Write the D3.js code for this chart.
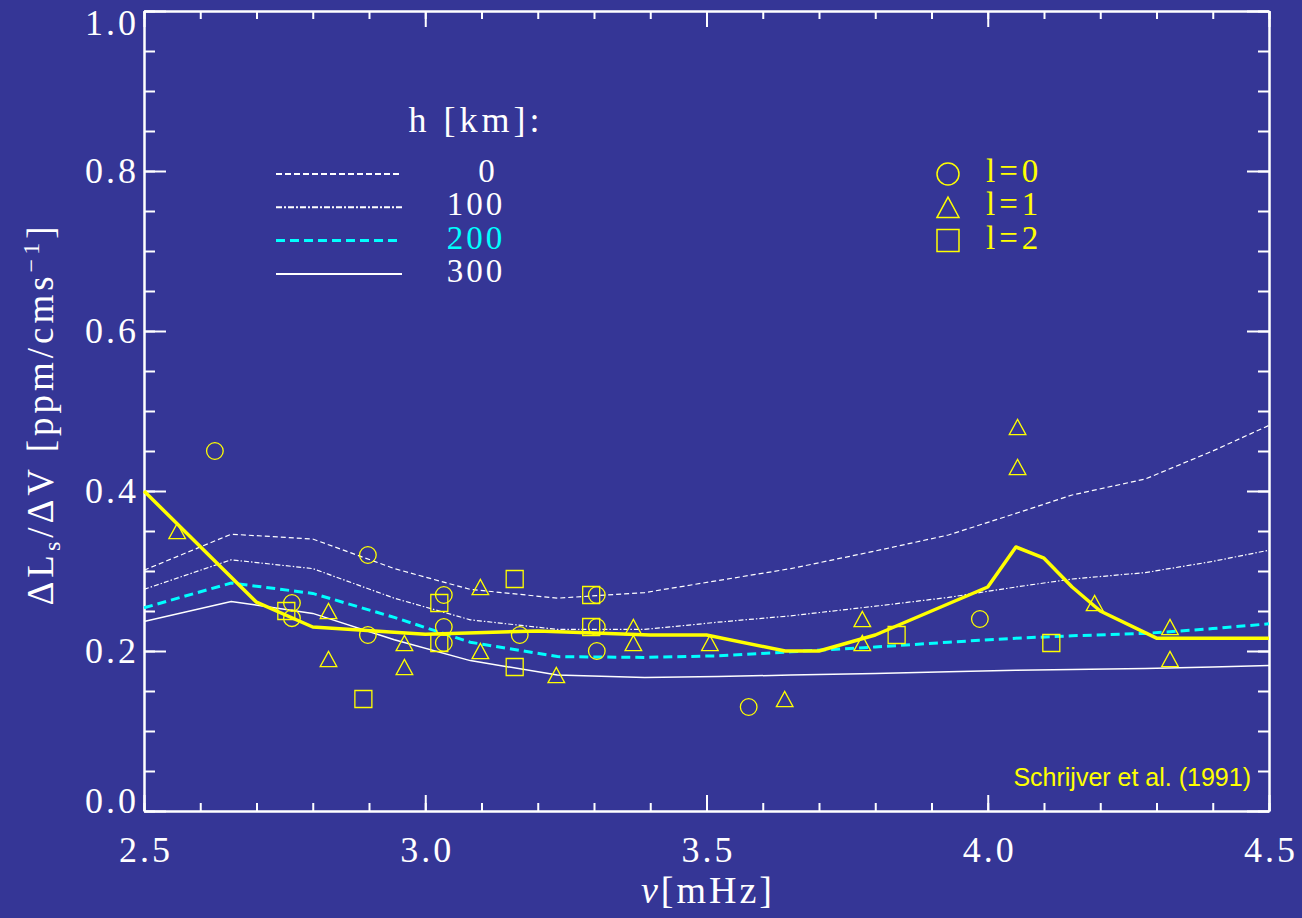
<!DOCTYPE html>
<html>
<head>
<meta charset="utf-8">
<script src="https://cdn.jsdelivr.net/npm/d3@7"></script>
<style>
body { margin: 0; background: #353696; }
.axis path, .axis line { stroke: #fff; stroke-width: 2; }
.axis text { fill: #fff; font-family: "Liberation Serif", serif; font-size: 36px; letter-spacing: 3px; }
.label { fill: #fff; font-family: "Liberation Serif", serif; font-size: 33px; letter-spacing: 3px; }
</style>
</head>
<body>
<div id="chart"></div>
<script>
// model curves, one value per grid frequency
var modelFreq = [2.5, 2.655, 2.80, 2.945, 3.08, 3.235, 3.39, 3.52, 3.65, 3.80, 3.93, 4.05, 4.15, 4.28, 4.40, 4.5];
var model0   = [0.301, 0.346, 0.340, 0.303, 0.277, 0.266, 0.273, 0.288, 0.303, 0.325, 0.345, 0.372, 0.395, 0.415, 0.450, 0.482];
var model100 = [0.277, 0.314, 0.303, 0.266, 0.239, 0.227, 0.227, 0.236, 0.244, 0.256, 0.267, 0.280, 0.290, 0.298, 0.312, 0.326];
var model200 = [0.254, 0.285, 0.272, 0.242, 0.211, 0.193, 0.192, 0.194, 0.199, 0.205, 0.211, 0.216, 0.219, 0.222, 0.228, 0.234];
var model300 = [0.237, 0.262, 0.247, 0.214, 0.188, 0.170, 0.167, 0.168, 0.170, 0.172, 0.174, 0.176, 0.177, 0.178, 0.180, 0.182];
var heights = ["0", "100", "200", "300"];

// observed mean (thick yellow)
var obsFreq  = [2.5, 2.7, 2.8, 3.0, 3.2, 3.4, 3.5, 3.64, 3.7, 3.8, 4.0, 4.05, 4.1, 4.15, 4.2, 4.3, 4.5];
var obsValue = [0.40, 0.261, 0.230, 0.221, 0.225, 0.220, 0.220, 0.200, 0.200, 0.220, 0.280, 0.330, 0.316, 0.280, 0.250, 0.216, 0.216];

// individual modes
var l0Points = [[2.626, 0.45], [2.763, 0.26], [2.763, 0.241], [2.898, 0.32], [2.898, 0.22],
    [3.033, 0.27], [3.033, 0.23], [3.033, 0.21], [3.168, 0.22], [3.305, 0.27], [3.305, 0.23],
    [3.305, 0.20], [3.575, 0.13], [3.986, 0.24]];
var l1Points = [[2.559, 0.35], [2.828, 0.25], [2.828, 0.19], [2.963, 0.21], [2.963, 0.18],
    [3.098, 0.28], [3.098, 0.20], [3.233, 0.17], [3.37, 0.23], [3.37, 0.21], [3.506, 0.21],
    [3.639, 0.14], [3.777, 0.24], [3.777, 0.21], [4.053, 0.48], [4.053, 0.43], [4.19, 0.26],
    [4.324, 0.23], [4.324, 0.19]];
var l2Points = [[2.753, 0.25], [2.89, 0.14], [3.025, 0.26], [3.025, 0.21], [3.159, 0.29],
    [3.159, 0.18], [3.295, 0.27], [3.295, 0.23], [3.838, 0.22], [4.113, 0.21]];
var degrees = ["l=0", "l=1", "l=2"];

var xTicks = [2.5, 3.0, 3.5, 4.0, 4.5];
var yTicks = [0.0, 0.2, 0.4, 0.6, 0.8, 1.0];

var margin = { top: 11, right: 33, bottom: 107, left: 144 };
var width = 1302 - margin.left - margin.right;
var height = 918 - margin.top - margin.bottom;

var root = d3.select("#chart").append("svg")
    .attr("width", 1302)
    .attr("height", 918);

root.append("rect")
    .attr("width", 1302)
    .attr("height", 918)
    .attr("fill", "#353696");

var svg = root.append("g")
    .attr("transform", "translate(" + margin.left + "," + margin.top + ")");

var x = d3.scaleLinear().domain([2.5, 4.5]).range([0, width]);
var y = d3.scaleLinear().domain([0, 1]).range([height, 0]);

var xMinor = d3.range(25, 46).map(function(d) { return d / 10; });
var yMinor = d3.range(0, 21).map(function(d) { return d / 20; });
var fmt = d3.format(".1f");

// minor ticks, all four sides
svg.append("g").attr("class", "axis").attr("transform", "translate(0," + height + ")")
    .call(d3.axisBottom(x).tickValues(xMinor).tickFormat("").tickSizeInner(-8).tickSizeOuter(0));
svg.append("g").attr("class", "axis")
    .call(d3.axisTop(x).tickValues(xMinor).tickFormat("").tickSizeInner(-8).tickSizeOuter(0));
svg.append("g").attr("class", "axis")
    .call(d3.axisLeft(y).tickValues(yMinor).tickFormat("").tickSizeInner(-11).tickSizeOuter(0));
svg.append("g").attr("class", "axis").attr("transform", "translate(" + width + ",0)")
    .call(d3.axisRight(y).tickValues(yMinor).tickFormat("").tickSizeInner(-11).tickSizeOuter(0));

// major ticks
var xAxisG = svg.append("g").attr("class", "axis").attr("transform", "translate(0," + height + ")")
    .call(d3.axisBottom(x).tickValues(xTicks).tickFormat(fmt).tickSizeInner(-16).tickSizeOuter(0).tickPadding(25));
svg.append("g").attr("class", "axis")
    .call(d3.axisTop(x).tickValues(xTicks).tickFormat("").tickSizeInner(-16).tickSizeOuter(0));
var yAxisG = svg.append("g").attr("class", "axis")
    .call(d3.axisLeft(y).tickValues(yTicks).tickFormat(fmt).tickSizeInner(-22).tickSizeOuter(0).tickPadding(5));
svg.append("g").attr("class", "axis").attr("transform", "translate(" + width + ",0)")
    .call(d3.axisRight(y).tickValues(yTicks).tickFormat("").tickSizeInner(-22).tickSizeOuter(0));

// letter-spacing leaves a trailing gap; nudge centred labels back
xAxisG.selectAll(".tick text").attr("dx", "1.5");

// end labels are pulled inside the frame
yAxisG.selectAll(".tick text")
    .attr("dy", function(d) { return d === 1 ? "0.64em" : d === 0 ? "0.03em" : "0.33em"; });

svg.selectAll(".axis .domain").attr("stroke-width", 2);

// model lines
var modelLine = d3.line()
    .x(function(d, i) { return x(modelFreq[i]); })
    .y(function(d) { return y(d); });

var modelStyles = [
    { data: model0,   color: "#ffffff", width: 1.2, dash: "5,3" },
    { data: model100, color: "#ffffff", width: 1.2, dash: "5,2,1.5,2" },
    { data: model200, color: "#00ffff", width: 3,   dash: "9,5" },
    { data: model300, color: "#ffffff", width: 1.5, dash: null }
];

svg.selectAll(".model")
    .data(modelStyles)
    .enter().append("path")
    .attr("class", "model")
    .attr("fill", "none")
    .attr("stroke", function(d) { return d.color; })
    .attr("stroke-width", function(d) { return d.width; })
    .attr("stroke-dasharray", function(d) { return d.dash; })
    .attr("d", function(d) { return modelLine(d.data); });

// observed mean
var obsLine = d3.line()
    .x(function(d, i) { return x(obsFreq[i]); })
    .y(function(d) { return y(d); });

svg.append("path")
    .attr("fill", "none")
    .attr("stroke", "#ffff00")
    .attr("stroke-width", 3.5)
    .attr("stroke-linejoin", "round")
    .attr("d", obsLine(obsValue));

// marker shapes
function markerPath(shape, s) {
    if (shape === "circle") {
        var p = d3.path();
        p.moveTo(s, 0);
        p.arc(0, 0, s, 0, 2 * Math.PI);
        return p.toString();
    }
    if (shape === "triangle") {
        return "M" + (-s) + "," + (s * 0.92) + "L0," + (-s * 0.92) + "L" + s + "," + (s * 0.92) + "Z";
    }
    return "M" + (-s) + "," + (-s) + "h" + (2 * s) + "v" + (2 * s) + "h" + (-2 * s) + "Z";
}

var shapes = ["circle", "triangle", "square"];
[l0Points, l1Points, l2Points].forEach(function(pts, k) {
    svg.selectAll(".mk" + k)
        .data(pts)
        .enter().append("path")
        .attr("class", "mk" + k)
        .attr("fill", "none")
        .attr("stroke", "#ffff00")
        .attr("stroke-width", 1.3)
        .attr("transform", function(d) { return "translate(" + x(d[0]) + "," + y(d[1]) + ")"; })
        .attr("d", markerPath(shapes[k], k === 2 ? 8.5 : 8.3));
});

// height legend
root.append("text")
    .attr("class", "label")
    .attr("x", 476).attr("y", 132)
    .attr("text-anchor", "middle")
    .style("font-size", "36px")
    .style("letter-spacing", "4px")
    .text("h [km]:");

var hLeg = root.selectAll(".hleg")
    .data(modelStyles)
    .enter().append("g")
    .attr("class", "hleg")
    .attr("transform", function(d, i) { return "translate(0," + (174 + i * 33.3) + ")"; });

hLeg.append("line")
    .attr("x1", 276).attr("x2", 402)
    .attr("stroke", function(d) { return d.color; })
    .attr("stroke-width", function(d, i) { return i === 2 ? 3 : 2; })
    .attr("stroke-dasharray", function(d, i) { return i === 0 ? "6,3" : i === 1 ? "6,2,2,2" : d.dash; });

hLeg.append("text")
    .attr("class", "label")
    .attr("x", function(d, i) { return i === 0 ? 488 : 476; })
    .attr("y", 8)
    .attr("text-anchor", "middle")
    .style("fill", function(d, i) { return i === 2 ? "#00ffff" : "#ffffff"; })
    .text(function(d, i) { return heights[i]; });

// degree legend
var dLeg = root.selectAll(".dleg")
    .data(degrees)
    .enter().append("g")
    .attr("class", "dleg")
    .attr("transform", function(d, i) { return "translate(948," + (174 + i * 33.3) + ")"; });

dLeg.append("path")
    .attr("fill", "none")
    .attr("stroke", "#ffff00")
    .attr("stroke-width", 1.5)
    .attr("d", function(d, i) { return markerPath(shapes[i], 11); });

dLeg.append("text")
    .attr("x", 38).attr("y", 8)
    .attr("font-family", "Liberation Serif, serif")
    .attr("font-size", 33)
    .attr("letter-spacing", 4)
    .attr("fill", "#ffff00")
    .text(function(d) { return d; });

// axis titles
var xt = root.append("text")
    .attr("class", "label")
    .attr("x", 708).attr("y", 903)
    .attr("text-anchor", "middle")
    .style("font-size", "38px")
    .style("letter-spacing", "3px");
xt.append("tspan").attr("font-style", "italic").text("ν");
xt.append("tspan").text("[mHz]");

var yt = root.append("text")
    .attr("class", "label")
    .attr("transform", "translate(53,414) rotate(-90)")
    .attr("text-anchor", "middle")
    .style("font-size", "37px")
    .style("letter-spacing", "4px");
yt.append("tspan").text("ΔL");
yt.append("tspan").style("font-size", "24px").attr("dy", 7).text("s");
yt.append("tspan").attr("dy", -7).text("/ΔV [ppm/cms");
yt.append("tspan").style("font-size", "24px").attr("dy", -14).text("−1");
yt.append("tspan").attr("dy", 14).text("]");

root.append("text")
    .attr("x", 1251).attr("y", 786)
    .attr("text-anchor", "end")
    .attr("font-family", "Liberation Sans, Arial, sans-serif")
    .attr("font-size", 25)
    .attr("fill", "#ffff00")
    .text("Schrijver et al. (1991)");
</script>
</body>
</html>
